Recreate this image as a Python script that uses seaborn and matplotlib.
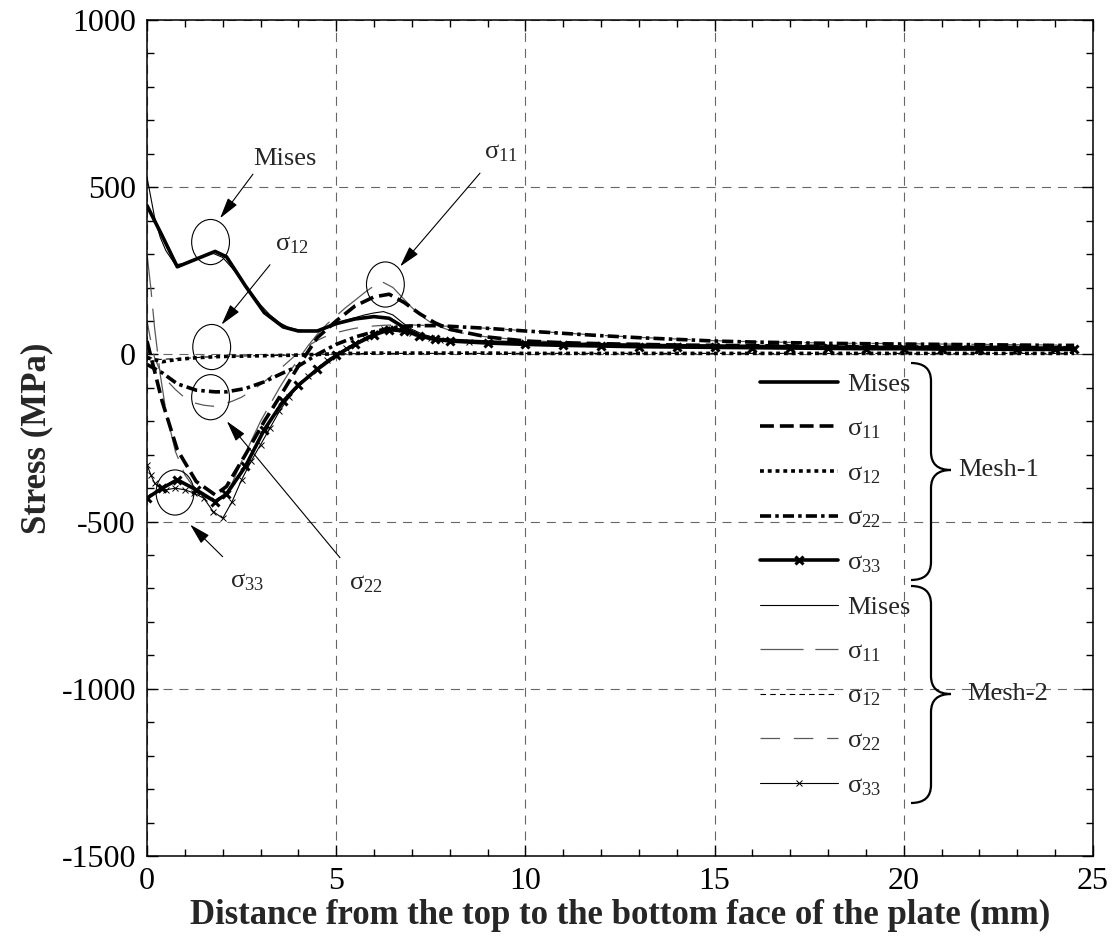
import numpy as np
import matplotlib
matplotlib.use("Agg")
import matplotlib.pyplot as plt
import seaborn as sns
from matplotlib.patches import Ellipse, PathPatch
from matplotlib.path import Path
from matplotlib.ticker import MultipleLocator

# ---------------------------------------------------------------
# Data (stress in MPa, distance in mm)
# ---------------------------------------------------------------
# Mesh-1 (coarse mesh, thick lines)
x_mesh1 = [0, 0.4, 0.8, 1.3, 1.8, 2.1, 2.6, 3.1, 3.6, 4.0, 4.5, 5.0, 5.5, 6.0,
           6.4, 6.8, 7.2, 7.6, 8.0, 9, 10, 11, 12, 13, 14, 15, 16, 17, 18, 19,
           20, 21, 22, 23, 24, 24.5]
mises_1 = [445, 355, 262, 285, 308, 292, 205, 125, 82, 70, 70, 92, 106, 113,
           108, 80, 55, 45, 42, 37, 34, 31, 29, 27, 26, 25, 24, 23, 22, 21,
           21, 20, 20, 19, 19, 19]
s11_1 = [40, -140, -285, -380, -420, -395, -300, -200, -110, -35, 50, 100, 145,
         172, 180, 155, 122, 95, 75, 52, 40, 35, 32, 30, 28, 27, 26, 25, 24, 23,
         22, 22, 21, 21, 20, 20]
s12_1 = [-10, -22, -15, -10, -7, -6, -5, -4, -3, -2, 0, 2, 3, 4, 4, 4, 4, 4, 4,
         4, 3, 3, 3, 3, 3, 3, 3, 3, 3, 3, 3, 3, 3, 3, 3, 3]
s22_1 = [-30, -55, -88, -107, -112, -112, -102, -82, -55, -35, 0, 30, 52, 68,
         78, 84, 86, 86, 84, 78, 70, 63, 56, 50, 45, 40, 37, 35, 33, 32, 31, 30,
         29, 28, 27, 27]
s33_1 = [-430, -400, -375, -405, -440, -418, -335, -225, -140, -92, -45, -3,
         30, 58, 74, 70, 56, 46, 40, 34, 30, 27, 25, 23, 22, 21, 20, 19, 18, 17,
         17, 16, 16, 15, 15, 15]

# Mesh-2 (fine mesh, thin lines)
x_mesh2 = [0, 0.1, 0.2, 0.35, 0.5, 0.75, 1.0, 1.25, 1.5, 1.75, 2.0, 2.25, 2.5,
           2.75, 3.0, 3.25, 3.5, 3.75, 4.0, 4.25, 4.5, 4.75, 5.0, 5.25, 5.5,
           5.75, 6.0, 6.25, 6.5, 6.75, 7.0, 7.25, 7.5, 7.75, 8.0, 8.5, 9, 10,
           11, 12, 13, 14, 15, 16, 17, 18, 19, 20, 21, 22, 23, 24, 24.5]
mises_2 = [530, 470, 410, 350, 310, 268, 272, 282, 295, 302, 290, 258, 222,
           185, 148, 118, 95, 80, 73, 71, 72, 80, 92, 102, 110, 118, 124, 128,
           118, 95, 75, 62, 53, 48, 45, 41, 38, 34, 31, 29, 27, 26, 25, 24, 23,
           22, 21, 21, 20, 20, 19, 19, 19]
s11_2 = [300, 200, 80, -60, -170, -290, -360, -400, -425, -440, -430, -385,
         -320, -260, -200, -150, -100, -55, -15, 25, 60, 90, 115, 140, 162, 185,
         205, 215, 200, 170, 140, 115, 95, 82, 72, 60, 52, 42, 36, 32, 30, 28,
         27, 26, 25, 24, 23, 22, 22, 21, 21, 20, 20]
s12_2 = [-5, -10, -13, -15, -14, -13, -12, -10, -8, -7, -6, -5, -5, -4, -4, -3,
         -3, -2, -2, -1, 0, 1, 1, 2, 2, 3, 3, 3, 3, 3, 3, 3, 3, 3, 3, 3, 3, 3,
         3, 3, 3, 3, 3, 3, 3, 3, 3, 3, 3, 3, 3, 3, 3]
s22_2 = [100, 40, -10, -50, -75, -105, -130, -145, -152, -155, -150, -140,
         -128, -110, -90, -68, -45, -20, 5, 25, 42, 55, 65, 72, 78, 82, 85, 87,
         88, 88, 88, 87, 86, 85, 84, 81, 78, 71, 64, 57, 51, 46, 41, 38, 36, 34,
         33, 32, 31, 30, 29, 28, 28]
s33_2 = [-330, -360, -385, -400, -405, -400, -405, -415, -430, -470, -490,
         -440, -375, -320, -270, -220, -170, -128, -95, -65, -40, -18, 0, 18,
         34, 50, 63, 76, 80, 75, 65, 55, 48, 43, 40, 36, 33, 29, 26, 24, 22, 21,
         20, 19, 18, 17, 17, 16, 16, 15, 15, 15, 15]

labels = ["Mises", "σ$_{11}$", "σ$_{12}$", "σ$_{22}$", "σ$_{33}$"]

# ---------------------------------------------------------------
# Style
# ---------------------------------------------------------------
sns.set_style("ticks")
plt.rcParams["font.family"] = ["Liberation Serif", "DejaVu Serif"]
plt.rcParams["mathtext.fontset"] = "custom"
plt.rcParams["mathtext.rm"] = "Liberation Serif"
plt.rcParams["mathtext.it"] = "Liberation Serif:italic"
plt.rcParams["mathtext.bf"] = "Liberation Serif:bold"
plt.rcParams["lines.scale_dashes"] = False
plt.rcParams["axes.unicode_minus"] = False

W, H = 1117, 942
fig = plt.figure(figsize=(W / 100, H / 100), dpi=100)
ax = fig.add_axes([147 / W, 1 - 856 / H, (1093 - 147) / W, (856 - 20) / H])


def draw(x, y, lw, color="k", dashes=None, **kw):
    sns.lineplot(x=x, y=y, ax=ax, color=color, linewidth=lw, **kw)
    line = ax.lines[-1]
    if dashes is not None:
        line.set_dashes(dashes)
    return line


# Mesh-2 first (thin), then Mesh-1 on top (thick)
h2 = [
    draw(x_mesh2, mises_2, 0.8),
    draw(x_mesh2, s11_2, 0.9, color="0.35", dashes=(31, 8.5)),
    draw(x_mesh2, s12_2, 0.8, dashes=(4, 3)),
    draw(x_mesh2, s22_2, 0.9, color="0.35", dashes=(14, 10)),
    draw(x_mesh2, s33_2, 0.8, marker="x", markersize=5, markeredgewidth=0.7,
         markeredgecolor="k"),
]
h1 = [
    draw(x_mesh1, mises_1, 2.6),
    draw(x_mesh1, s11_1, 2.6, dashes=(10, 4.3)),
    draw(x_mesh1, s12_1, 2.6, dashes=(2.8, 2.8)),
    draw(x_mesh1, s22_1, 2.6, dashes=(8, 3, 2.5, 3)),
    draw(x_mesh1, s33_1, 2.6, marker="x", markersize=6, markeredgewidth=2.2,
         markeredgecolor="k"),
]

# Axes, ticks, grid
ax.set_xlim(0, 25)
ax.set_ylim(-1500, 1000)
ax.xaxis.set_major_locator(MultipleLocator(5))
ax.xaxis.set_minor_locator(MultipleLocator(1))
ax.yaxis.set_major_locator(MultipleLocator(500))
ax.yaxis.set_minor_locator(MultipleLocator(100))
ax.tick_params(which="both", direction="in", top=True, right=True,
               labelsize=23, width=1.0, colors="k")
ax.tick_params(which="major", length=8, pad=8)
ax.tick_params(which="minor", length=5)
for sp in ax.spines.values():
    sp.set_linewidth(1.1)
    sp.set_color("k")
ax.grid(True, which="major", color="0.4", linewidth=0.8, linestyle=(0, (6.5, 5)))
ax.set_axisbelow(True)

ax.set_xlabel("Distance from the top to the bottom face of the plate (mm)",
              fontsize=25, fontweight="bold", labelpad=2)
ax.set_ylabel("Stress (MPa)", fontsize=25, fontweight="bold", labelpad=6)

# Circles and arrows pointing at them
circles = [(1.68, 336), (1.71, 22), (1.68, -128), (0.74, -413), (6.30, 209)]
for cx, cy in circles:
    ax.add_patch(Ellipse((cx, cy), 1.0, 135, fill=False, lw=0.8, ec="k", zorder=5))

notes = [
    # text, text position, arrow tail, arrow tip
    ("Mises", (3.65, 584), (2.80, 539), (1.93, 407)),
    ("σ$_{12}$", (3.83, 326), (3.25, 268), (1.97, 89)),
    ("σ$_{11}$", (9.36, 602), (8.80, 542), (6.69, 263)),
    ("σ$_{22}$", (5.79, -686), (5.10, -608), (2.11, -200)),
    ("σ$_{33}$", (2.64, -680), (2.00, -605), (1.14, -509)),
]
for txt, tpos, tail, tip in notes:
    ax.text(*tpos, txt, fontsize=19, ha="center", va="center", zorder=6)
    ax.annotate("", xy=tip, xytext=tail, zorder=6,
                arrowprops=dict(arrowstyle="-|>,head_length=1.3,head_width=0.35",
                                lw=0.8, color="k", shrinkA=0, shrinkB=0))

# Legend
leg = ax.legend(h1 + h2, labels + labels, loc="upper left",
                bbox_to_anchor=(760 / W, 1 - 373 / H),
                bbox_transform=fig.transFigure, frameon=False, fontsize=19,
                handlelength=2.95, handletextpad=0.35, borderpad=0,
                labelspacing=0.78, borderaxespad=0)
leg.set_zorder(7)


# Curly braces grouping the legend rows
def brace(x0, y0, y1, ym, spine=20, tip=40):
    c, t = x0 + spine, x0 + tip
    pts = [(x0, y0), (c, y0), (c, y0 + 18),
           (c, ym - 18),
           (c, ym), (t, ym),
           (c, ym), (c, ym + 18),
           (c, y1 - 18),
           (c, y1), (x0, y1)]
    codes = [Path.MOVETO, Path.CURVE3, Path.CURVE3,
             Path.LINETO,
             Path.CURVE3, Path.CURVE3,
             Path.CURVE3, Path.CURVE3,
             Path.LINETO,
             Path.CURVE3, Path.CURVE3]
    verts = [(px / W, 1 - py / H) for px, py in pts]
    fig.add_artist(PathPatch(Path(verts, codes), transform=fig.transFigure,
                             fill=False, lw=1.6, ec="k"))


brace(911, 363, 580, 470)
brace(911, 586, 803, 694)
fig.text(958 / W, 1 - 470 / H, "Mesh-1", fontsize=19, ha="left", va="center")
fig.text(967 / W, 1 - 694 / H, "Mesh-2", fontsize=19, ha="left", va="center")

plt.savefig("out.png", dpi=100)
